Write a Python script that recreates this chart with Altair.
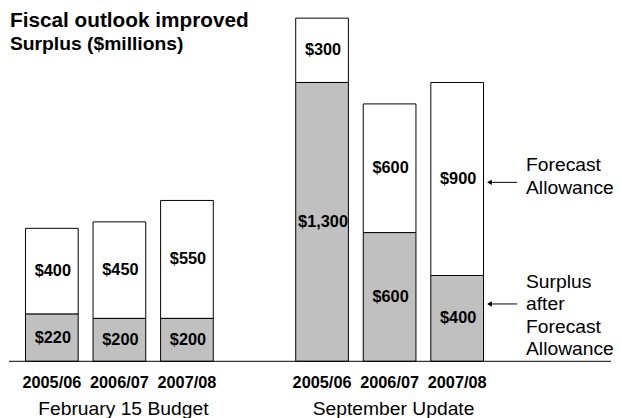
import altair as alt
import pandas as pd

FONT = "Liberation Sans"

title_text = "Fiscal outlook improved"
subtitle_text = "Surplus ($millions)"

slots = ["a|2005/06", "a|2006/07", "a|2007/08", "gap",
         "b|2005/06", "b|2006/07", "b|2007/08"]
bar_slots = ["a|2005/06", "a|2006/07", "a|2007/08",
             "b|2005/06", "b|2006/07", "b|2007/08"]
surplus = [220, 200, 200, 1300, 600, 400]
allowance = [400, 450, 550, 300, 600, 900]

group_names = ["February 15 Budget", "September Update"]
group_slots = ["a|2006/07", "b|2006/07"]

note_allowance = "Forecast\nAllowance"
note_surplus = "Surplus\nafter\nForecast\nAllowance"

df = pd.DataFrame({"slot": bar_slots, "surplus": surplus, "allowance": allowance})

yscale = alt.Scale(domain=[0, 1627], nice=False, zero=True)
x_enc = alt.X(
    "slot:N",
    scale=alt.Scale(domain=slots, range=[16.7, 480], paddingInner=0.22, paddingOuter=0),
    axis=alt.Axis(
        title=None,
        labelExpr="indexof(datum.label, '|') > 0 ? split(datum.label, '|')[1] : ''",
        domain=False, ticks=False, grid=False,
        labelFontSize=16.5, labelFontWeight="bold", labelColor="black",
        labelFont=FONT, labelPadding=14, labelAngle=0,
    ),
)

base = alt.Chart(df).transform_calculate(
    lo="0",
    total="datum.surplus + datum.allowance",
    mid_s="datum.surplus / 2",
    mid_a="datum.surplus + datum.allowance / 2",
)

grey = base.mark_bar(fill="#c0c0c0", stroke="black", strokeWidth=1).encode(
    x=x_enc, y=alt.Y("surplus:Q", scale=yscale, axis=None), y2="lo:Q"
)
white = base.mark_bar(fill="white", stroke="black", strokeWidth=1).encode(
    x=x_enc, y=alt.Y("total:Q", scale=yscale, axis=None), y2="surplus:Q"
)
txt_kw = dict(fontSize=16.5, fontWeight="bold", font=FONT, color="black", baseline="middle", dx=1)
lab_s = base.mark_text(**txt_kw).encode(
    x=x_enc, y=alt.Y("mid_s:Q", scale=yscale, axis=None),
    text=alt.Text("surplus:Q", format="$,.0f"),
)
lab_a = base.mark_text(**txt_kw).encode(
    x=x_enc, y=alt.Y("mid_a:Q", scale=yscale, axis=None),
    text=alt.Text("allowance:Q", format="$,.0f"),
)

baseline = alt.Chart(pd.DataFrame({"v": [0]})).mark_rule(color="black", strokeWidth=1).encode(
    y=alt.Y("v:Q", scale=yscale, axis=None), x=alt.value(0), x2=alt.value(609)
)

title = alt.Chart(pd.DataFrame({"t": [title_text]})).mark_text(
    align="left", baseline="alphabetic", fontSize=21, fontWeight="bold", font=FONT, color="black"
).encode(text="t:N", x=alt.value(1), y=alt.value(15))
subtitle = alt.Chart(pd.DataFrame({"t": [subtitle_text]})).mark_text(
    align="left", baseline="alphabetic", fontSize=19.5, fontWeight="bold", font=FONT, color="black"
).encode(text="t:N", x=alt.value(1), y=alt.value(38))

gdf = pd.DataFrame({"slot": group_slots, "name": group_names})
groups = alt.Chart(gdf).mark_text(
    fontSize=19.5, font=FONT, color="black", baseline="alphabetic", align="center", dx=4
).encode(x=x_enc, y=alt.value(407), text="name:N")

n_kw = dict(fontSize=19.5, font=FONT, color="black", baseline="alphabetic", align="left",
            lineBreak="\n", lineHeight=22.5)
note1 = alt.Chart(pd.DataFrame({"t": [note_allowance]})).mark_text(**n_kw).encode(
    text="t:N", x=alt.value(523), y=alt.value(161))
note2 = alt.Chart(pd.DataFrame({"t": [note_surplus]})).mark_text(**n_kw).encode(
    text="t:N", x=alt.value(523), y=alt.value(279))

arrows = []
for ay in (172, 295):
    arrows.append(alt.Chart(pd.DataFrame({"a": [0]})).mark_rule(color="black", strokeWidth=1).encode(
        x=alt.value(485), x2=alt.value(514), y=alt.value(ay)))
    arrows.append(alt.Chart(pd.DataFrame({"a": [0]})).mark_point(
        shape="triangle-left", filled=True, color="black", size=30, opacity=1).encode(
        x=alt.value(486), y=alt.value(ay)))

chart = alt.layer(
    white, grey, baseline, lab_s, lab_a, title, subtitle, groups, note1, note2, *arrows
).properties(width=606, height=353, padding=0).configure_view(stroke=None)

chart.save("out.html", embed_options={"renderer": "svg", "actions": False})
